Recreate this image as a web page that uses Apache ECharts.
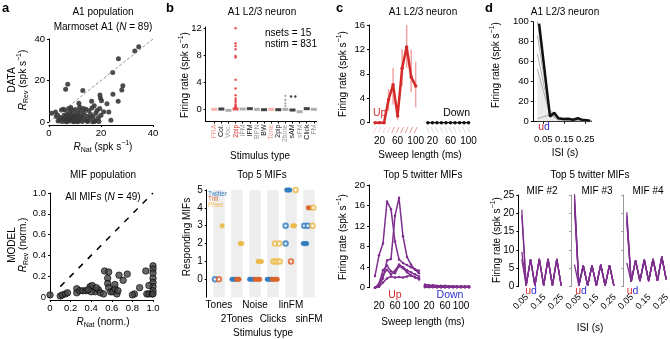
<!DOCTYPE html>
<html>
<head>
<meta charset="utf-8">
<script src="https://cdn.jsdelivr.net/npm/echarts@6/dist/echarts.min.js"></script>
<style>html,body{margin:0;padding:0;background:#fff}#chart{width:670px;height:339px}</style>
</head>
<body>
<div id="chart"></div>
<script>
// ---- panel a : data vs model scatter ----
var a1Points = [
  [34.5,36.3],[33,34.2],[26.7,30.5],[24.5,23.8],[7.2,18.2],[6.4,15.8],[13,15.2],[28.4,17.5],[28,15.4],[19.6,13],
  [19.8,11.5],[20.2,10.2],[26.6,10],[24.6,13.4],[16.4,10],[11.5,9],[17.4,7.8],[22.3,8.8],[23,4.8],[23.8,0.8],
  [17.8,0.6],[1,4.2],[3.5,0.5],[4,1],[4.5,2.2],[5,0.3],[5.3,1.6],[5.8,3.2],[6,0.8],[6.2,5.8],
  [6.5,2.4],[6.8,1.2],[7,3.8],[7.2,0.2],[7.5,2.8],[7.8,1.6],[8,4.6],[8.2,0.9],[8.5,2],[8.7,3.1],
  [9,0.4],[9,5.5],[9.3,1.5],[9.5,2.6],[9.8,3.6],[10,0.8],[10.2,6],[10.5,1.9],[10.8,3],[11,4.2],
  [11.2,0.5],[11.5,2.4],[12,5.6],[12.2,1.3],[12.5,3.4],[12.8,0.3],[13,2.2],[13.5,4.5],[14,1],[14.2,6.2],
  [14.5,2.8],[15,0.5],[15.4,5.4],[15.8,1.8],[16,3.6],[16.5,6.8],[17,2.5],[17.5,0.2],[18,4.2],[18.5,5.6],
  [19,2],[19.5,6.5],[20,3.2],[21,5],[5.5,6.2],[4.8,5.8],[2.5,4.8],[2.8,2.6],[3.3,3.4],[7.6,6.5],
  [8.4,7],[11.8,7.2],[13.2,6.5],[6.6,0.1],[9.6,0.1],[14.8,0.2],[16.8,0.1],[19.2,0.3],[11,0.1]
];
var a2Points = [
  [0,0.02],[0.1,0.01],[0.12,0.02],[0.15,0.03],[0.17,0.04],
  [0.26,0.08],[0.26,0.04],[0.29,0.06],[0.32,0.06],[0.35,0.06],
  [0.39,0.1],[0.41,0.11],[0.44,0.05],[0.47,0.07],[0.49,0.04],[0.40,0.05],
  [0.53,0.25],[0.57,0.24],[0.56,0.18],[0.56,0.13],[0.57,0.09],[0.59,0.05],
  [0.61,0.05],[0.63,0.08],[0.65,0.03],[0.66,0.06],[0.63,0.12],
  [0.67,0.21],[0.71,0.16],[0.75,0.22],[0.82,0.03],[0.80,0.02],[0.87,0.09],[0.93,0.25],
  [0.94,0.03],[0.96,0.03],[0.99,0.03],
  [1.0,0.30],[1.0,0.27],[1.0,0.23],[1.0,0.18],[1.0,0.14],[1.0,0.10],[1.0,0.06],[1.0,0.03],[0.96,0.11],
  [0.45,0.09],[0.52,0.03],[0.37,0.07]
];

// ---- panel b : stimulus types ----
var bCats = ['FRA','Col.','Voc.','2pip','lFM','lFM','BPN','BW','Tone','2pip','2tone','sAM','sFM','Click','FM'];
var bColors = ['#f2a093','#111','#9a9a9a','#e0282b','#9a9a9a','#111','#9a9a9a','#111','#f2a093','#111','#9a9a9a','#111','#9a9a9a','#111','#9a9a9a'];
var bBase = [0,0.05,-0.15,0.05,0.05,0.1,0,-0.05,0,-0.05,0,-0.1,-0.35,0.1,0];
var b2pipRates = [12,9.8,9.4,8.9,7.9,7.7,4.4,3.1,2.1,1.6,1.3,1.0,0.7,0.5,0.3];
var b2toneRates = [2.0,1.4,0.9,0.5];
var bsAMPoints = [[11.8,1.9],[12.4,1.9]];

var bGroups = ['Tones','2Tones','Noise','Clicks','linFM','sinFM'];
var twFilled = [[1.72,0],[1.83,0],[1.94,0],[2.7,0],[2.8,0],[2.9,0],[3.68,0],[3.78,0],[3.88,0],[4.76,5],[4.85,5],[4.94,5],[5.68,2],[5.78,2],[5.87,2]];
var twHollow = [[0.78,0],[4.7,2],[4.7,3],[5.74,3],[5.93,3]];
var trFilled = [[1.98,0],[2.06,0],[2.12,0],[3.0,0],[3.1,0],[3.2,0],[3.27,0],[3.95,0],[4.05,0],[4.15,0],[4.24,0],[5.96,4],[6.08,4]];
var trHollow = [[1.0,0],[5.0,1]];
var phFilled = [[1.18,3],[2.18,2],[2.27,2],[3.17,1],[3.27,1],[3.36,1],[5.09,3],[5.2,3]];
var phHollow = [[4.02,1],[4.14,1],[4.26,1],[4.38,1],[4.11,2],[4.35,2],[5.26,5],[6.2,3],[6.24,4]];

// ---- panel c : sweep length tuning ----
var cUpLen = [10,20,30,40,50,60,70,80,90,100];
var cUpRate = [0,0,0,3.8,6.2,1.1,8.9,12.4,7.5,6.0];
var cUpLow = [0,0,0,2.0,3.0,0.4,6.0,9.0,5.0,2.5];
var cUpHigh = [0,0,0,5.5,9.0,2.0,12.0,16.0,12.0,10.0];
var cDownLen = [10,20,30,40,50,60,70,80,90,100];
var cDownRate = [0,0,0,0,0,0,0,0,0,0];
var cTopDownShift = 117;

var c2Len = [10,20,30,40,50,60,70,80,90,100,110,120];
var c2Up = [
  [2.3,6.3,8.6,16.8,15.3,9.0,5.5,4.8,4.4,4.0,3.6,3.3],
  [0,0.5,1.8,5.3,5.6,14.0,17.5,10.0,6.0,4.5,3.5,2.8],
  [0,0.3,2.5,3.5,2.6,3.3,4.5,4.0,3.4,3.0,2.6,2.2],
  [0,0.8,3.4,4.3,3.2,2.8,4.2,3.8,3.0,2.4,2.1,1.6],
  [0,0.2,1.0,1.8,2.2,2.0,2.1,2.0,2.2,2.4,2.0,1.8]
];
var c2Down = [
  [0.6,0.5,0.5,0.4,0.4,0.4,0.3,0.3,0.3,0.3,0.3,0.3],
  [0.5,0.4,0.4,0.3,0.3,0.3,0.3,0.3,0.2,0.2,0.2,0.2],
  [0.3,0.3,0.2,0.2,0.2,0.2,0.2,0.2,0.2,0.2,0.2,0.2],
  [0.2,0.2,0.2,0.1,0.1,0.1,0.1,0.1,0.1,0.1,0.1,0.1],
  [0.1,0.1,0.1,0.1,0.1,0.1,0.1,0.1,0.1,0.1,0.1,0.1]
];
var cBotDownShift = 125;

// ---- panel d : ISI tuning ----
var d1BlackIsi = [0.03,0.082,0.102,0.122,0.145,0.169,0.193,0.214,0.233,0.257,0.272];
var d1BlackRate = [98,5,9,3.5,2.7,3,2,3.5,2,1.5,1];
var d1GrayIsi = [0.022,0.08,0.1,0.12,0.15,0.2,0.25,0.28];
var d1GrayIds = ['5','4','3','2','1'];
var d1Gray = [
  [100,12,7,3,2,2,1.5,1],
  [86,10,6,3,2,2,1,1],
  [68,9,6,3,2,1.5,1,1],
  [53,8,5,2,2,1.5,1,1],
  [3,7,5,2,1.5,1,1,1]
];
var isiD2 = [0.02,0.045,0.07,0.095,0.12,0.145,0.17,0.195,0.22,0.245];
var mif2Ids = ['5','3','2','1'];
var mif2Starts = [21,19.5,9.5,7.5];
var mif2Zig = [0.3,7.5,0.3,7.6,0.3,7.6,0.3,7.6,0.3];
var mif3Ids = ['5','4','3','2','1'];
var mif3Starts = [25.2,24.0,22.8,21.6,6.0];
var mif3Zig = [0.3,5.8,0.3,5.8,0.3,6.0,0.3,5.9,0.3];
var mif4Ids = ['5','4','3','2','1'];
var mif4Starts = [20.3,19.4,18.5,17.6,6.5];
var mif4Zig = [1.3,7.2,1.5,7.4,1.5,7.6,1.6,8.2,2.0];

var F = '"Liberation Sans", Arial, Helvetica, sans-serif';
var PURPLE = '#7e2f8e', RED = '#d42a2a', BLUE = '#2f2fd0';
var TW = '#2f7bbf', TR = '#d9622b', PH = '#ecb94a';
var TICK = 9.5;

var chart = echarts.init(document.getElementById('chart'), null, {renderer: 'canvas'});

function grid(l, t, w, h) {
  return {left: l, top: t, width: w, height: h, containLabel: false, outerBoundsMode: 'none'};
}
var grids = [
  grid(49, 39, 104, 83), grid(50, 193, 103, 104),
  grid(205.7, 27, 111, 94.5), grid(206.7, 190, 109.5, 107.2),
  grid(369, 25, 103, 97.7), grid(369, 185, 103, 102.7),
  grid(532.8, 21.7, 58.8, 100),
  grid(518.3, 195, 45.5, 91.7), grid(571, 195, 45.5, 91.7), grid(623.3, 195, 45.5, 91.7)
];

function axis(gi, o) {
  var a = {
    type: 'value', gridIndex: gi, splitLine: {show: false},
    axisLine: {show: true, onZero: false, lineStyle: {color: '#000', width: 1}},
    axisTick: {show: true, length: 2, lineStyle: {color: '#000'}},
    axisLabel: {fontSize: TICK, fontFamily: F, color: '#000', margin: 4, hideOverlap: false,
      showMinLabel: true, showMaxLabel: true}
  };
  for (var k in o) {
    if (o[k] && typeof o[k] === 'object' && !Array.isArray(o[k]) && a[k]) a[k] = Object.assign({}, a[k], o[k]);
    else a[k] = o[k];
  }
  return a;
}
function fmt1(v) { v = Number(v); return v === 0 ? '0' : v.toFixed(1); }

var bIdx = bCats.map(function (c, i) { return i + 1; });
var gIdx = bGroups.map(function (c, i) { return i + 1; });
var gOdd = gIdx.filter(function (v) { return v % 2 === 1; });
var gEven = gIdx.filter(function (v) { return v % 2 === 0; });
var cTopTicks = [20, 60, 100].concat([20, 60, 100].map(function (v) { return v + cTopDownShift; }));
var cBotTicks = [20, 60, 100].concat([20, 60, 100].map(function (v) { return v + cBotDownShift; }));
var isiTicks = [0.05, 0.15, 0.25];
function groupName(v) { return bGroups[Math.round(v) - 1]; }

var xs = [
  axis(0, {min: 0, max: 40, interval: 20, offset: 3, axisLabel: {margin: 3}}),
  axis(1, {min: 0, max: 1, interval: 0.2, offset: 3, axisLabel: {margin: 3, formatter: fmt1}}),
  axis(2, {min: -0.2, max: 15.4, axisTick: {customValues: bIdx, length: 2},
    axisLabel: {customValues: bIdx, rotate: 90, fontSize: 7, margin: 3,
      formatter: function (v) { return bCats[Math.round(v) - 1]; },
      color: function (v) { return bColors[Math.round(Number(v)) - 1]; }}}),
  axis(3, {min: 0.32, max: 6.4, position: 'bottom', axisLine: {show: false}, axisTick: {show: false},
    axisLabel: {customValues: gOdd, margin: 3, fontSize: 10, formatter: groupName}}),
  axis(4, {min: -3.3, max: 224.6, axisLine: {show: false}, axisTick: {show: false},
    axisLabel: {customValues: cTopTicks, margin: 14, fontSize: 10,
      formatter: function (v) { v = Number(v); return String(v > 110 ? v - cTopDownShift : v); }}}),
  axis(5, {min: -5, max: 252.5, axisLine: {show: false}, axisTick: {show: false},
    axisLabel: {customValues: cBotTicks, margin: 14, fontSize: 10,
      formatter: function (v) { v = Number(v); return String(v > 125 ? v - cBotDownShift : v); }}}),
  axis(6, {min: 0, max: 0.28, axisTick: {customValues: isiTicks, length: 2}, axisLabel: {customValues: isiTicks, margin: 13}}),
  axis(7, {min: 0, max: 0.26, axisLine: {show: false}, axisTick: {show: false}, axisLabel: {customValues: isiTicks, rotate: 45, fontSize: 9, margin: 9}}),
  axis(8, {min: 0, max: 0.26, axisLine: {show: false}, axisTick: {show: false}, axisLabel: {customValues: isiTicks, rotate: 45, fontSize: 9, margin: 9}}),
  axis(9, {min: 0, max: 0.26, axisLine: {show: false}, axisTick: {show: false}, axisLabel: {customValues: isiTicks, rotate: 45, fontSize: 9, margin: 9}}),
  // second label row of panel b bottom
  axis(3, {min: 0.32, max: 6.4, position: 'bottom', offset: 0, axisLine: {show: false}, axisTick: {show: false},
    axisLabel: {customValues: gEven, margin: 17, fontSize: 10, formatter: groupName}})
];
var ys = [
  axis(0, {min: 0, max: 40, interval: 20}),
  axis(1, {min: 0, max: 1, interval: 0.2, axisLabel: {formatter: fmt1}}),
  axis(2, {min: -1.8, max: 12.2, axisTick: {customValues: [0, 4, 8, 12], length: 2}, axisLabel: {customValues: [0, 4, 8, 12]}}),
  axis(3, {min: -1, max: 5, axisTick: {customValues: [0, 1, 2, 3, 4, 5], length: 2}, axisLabel: {customValues: [0, 1, 2, 3, 4, 5], fontSize: 10}}),
  axis(4, {min: 0, max: 16, interval: 4}),
  axis(5, {min: 0, max: 20, interval: 4}),
  axis(6, {min: 0, max: 100, interval: 20}),
  axis(7, {min: 0, max: 25, interval: 5, axisLabel: {fontSize: 10}}),
  axis(8, {min: 0, max: 25, interval: 5, axisLabel: {show: false}, axisLine: {show: true, onZero: false, lineStyle: {color: '#999'}}, axisTick: {show: true, length: 2, lineStyle: {color: '#999'}}}),
  axis(9, {min: 0, max: 25, interval: 5, axisLabel: {show: false}, axisLine: {show: true, onZero: false, lineStyle: {color: '#999'}}, axisTick: {show: true, length: 2, lineStyle: {color: '#999'}}})
];

var series = [];
function add(s) { s.animation = false; series.push(s); }

// a
add({type: 'line', xAxisIndex: 0, yAxisIndex: 0, data: [[0, 0], [40, 40]], symbol: 'none',
  lineStyle: {color: '#777', width: 0.8, type: [3, 2]}});
add({type: 'scatter', xAxisIndex: 0, yAxisIndex: 0, data: a1Points, symbolSize: 5, clip: false,
  itemStyle: {color: '#383838', opacity: 0.9}});
add({type: 'line', xAxisIndex: 1, yAxisIndex: 1, data: [[0.1, 0.1], [1, 1]], symbol: 'none',
  lineStyle: {color: '#000', width: 1.5, type: [6, 7]}});
add({type: 'scatter', xAxisIndex: 1, yAxisIndex: 1, data: a2Points, symbolSize: 6.5, clip: false,
  itemStyle: {color: '#444', borderColor: '#000', borderWidth: 0.8}});

// b top
add({type: 'scatter', xAxisIndex: 2, yAxisIndex: 2, symbol: 'rect', symbolSize: [6, 3], clip: false,
  data: bBase.map(function (v, i) { return [i + 1, v]; }),
  itemStyle: {color: function (p) { return bColors[p.dataIndex]; }}});
add({type: 'scatter', xAxisIndex: 2, yAxisIndex: 2, symbolSize: 2.5, clip: false,
  data: b2pipRates.map(function (v) { return [4, v]; }), itemStyle: {color: '#e0282b'}});
add({type: 'scatter', xAxisIndex: 2, yAxisIndex: 2, symbolSize: 2.2, clip: false,
  data: b2toneRates.map(function (v) { return [11, v]; }), itemStyle: {color: '#8a8a8a'}});
add({type: 'scatter', xAxisIndex: 2, yAxisIndex: 2, symbolSize: 2.4, clip: false,
  data: bsAMPoints, itemStyle: {color: '#111'}});

// b bottom
add({type: 'scatter', xAxisIndex: 3, yAxisIndex: 3, data: [], silent: true,
  markArea: {silent: true, itemStyle: {color: '#eeeeee'},
    data: gIdx.map(function (c) { return [{xAxis: c - 0.32, yAxis: -1}, {xAxis: c + 0.32, yAxis: 5}]; })}});
function b2(data, color, hollow) {
  add({type: 'scatter', xAxisIndex: 3, yAxisIndex: 3, data: data, clip: false,
    symbol: hollow ? 'emptyCircle' : 'circle', symbolSize: 4.5,
    itemStyle: hollow ? {color: color, borderWidth: 1} : {color: color, borderColor: color, borderWidth: 0.5, opacity: 0.95}});
}
b2(twFilled, TW, false); b2(trFilled, TR, false); b2(phFilled, PH, false);
b2(twHollow, TW, true); b2(trHollow, TR, true); b2(phHollow, PH, true);

// c top
add({type: 'custom', xAxisIndex: 4, yAxisIndex: 4, z: 1,
  data: cUpLen.map(function (l, i) { return [l, cUpLow[i], cUpHigh[i]]; }),
  renderItem: function (params, api) {
    var p1 = api.coord([api.value(0), api.value(1)]);
    var p2 = api.coord([api.value(0), api.value(2)]);
    return {type: 'line', shape: {x1: p1[0], y1: p1[1], x2: p2[0], y2: p2[1]}, style: {stroke: '#f2a3a3', lineWidth: 1.5}};
  }});
add({type: 'line', xAxisIndex: 4, yAxisIndex: 4, z: 3, clip: false,
  data: cUpLen.map(function (l, i) { return [l, cUpRate[i]]; }),
  symbol: 'circle', symbolSize: 3.5, lineStyle: {color: RED, width: 2.5}, itemStyle: {color: RED}});
add({type: 'line', xAxisIndex: 4, yAxisIndex: 4, z: 3, clip: false,
  data: cDownLen.map(function (l, i) { return [l + cTopDownShift, cDownRate[i]]; }),
  symbol: 'circle', symbolSize: 3.5, lineStyle: {color: '#111', width: 1.2}, itemStyle: {color: '#111'}});
add({type: 'scatter', xAxisIndex: 4, yAxisIndex: 4, clip: false,
  data: cUpLen.map(function (l) { return [l, -1.2]; }),
  symbol: 'path://M0,10L2,10L10,0L8,0Z', symbolSize: [3.5, 6],
  itemStyle: {color: function (p) { return p.dataIndex < 4 ? '#f4b3b3' : '#d84a4a'; }}});
add({type: 'scatter', xAxisIndex: 4, yAxisIndex: 4, clip: false,
  data: cDownLen.map(function (l) { return [l + cTopDownShift, -1.2]; }),
  symbol: 'path://M0,0L2,0L10,10L8,10Z', symbolSize: [3.5, 6], itemStyle: {color: '#c4c4c4'}});

// c bottom
c2Up.forEach(function (row) {
  add({type: 'line', xAxisIndex: 5, yAxisIndex: 5, clip: false,
    data: c2Len.map(function (l, i) { return [l, row[i]]; }),
    symbol: 'circle', symbolSize: 2.5, lineStyle: {color: PURPLE, width: 1.5}, itemStyle: {color: PURPLE}});
});
c2Down.forEach(function (row) {
  add({type: 'line', xAxisIndex: 5, yAxisIndex: 5, clip: false,
    data: c2Len.map(function (l, i) { return [l + cBotDownShift, row[i]]; }),
    symbol: 'circle', symbolSize: 2.5, lineStyle: {color: PURPLE, width: 1.5}, itemStyle: {color: PURPLE}});
});

// d top
d1Gray.forEach(function (row, k) {
  add({type: 'line', xAxisIndex: 6, yAxisIndex: 6, clip: false, symbol: 'none', z: 2,
    data: d1GrayIsi.map(function (x, i) {
      var d = {value: [x, row[i]]};
      if (i === 0) d.label = {show: true, formatter: d1GrayIds[k], position: 'inside', fontSize: 7, color: '#888', fontFamily: F};
      return d;
    }),
    lineStyle: {color: '#aaa', width: 1},
    areaStyle: k === 3 ? {color: '#c9c9c9', opacity: 0.35} : undefined});
});
add({type: 'line', xAxisIndex: 6, yAxisIndex: 6, clip: false, symbol: 'none', z: 4,
  data: d1BlackIsi.map(function (x, i) { return [x, d1BlackRate[i]]; }),
  lineStyle: {color: '#111', width: 2.5}});

// d bottom
function mifLines(axisIdx, ids, starts, zig) {
  ids.forEach(function (id, k) {
    var ys2 = [starts[k]].concat(zig);
    add({type: 'line', xAxisIndex: axisIdx, yAxisIndex: axisIdx, clip: false, symbol: 'none',
      data: isiD2.map(function (x, i) {
        var d = {value: [x, ys2[i]]};
        if (i === 0) d.label = {show: true, formatter: id, position: starts[k] > 12 ? 'right' : 'left', distance: 2,
          fontSize: 7, color: '#444', fontFamily: F};
        return d;
      }),
      lineStyle: {color: PURPLE, width: 1.3}});
  });
}
mifLines(7, mif2Ids, mif2Starts, mif2Zig);
mifLines(8, mif3Ids, mif3Starts, mif3Zig);
mifLines(9, mif4Ids, mif4Starts, mif4Zig);

// text
var RICH = {
  it: {fontStyle: 'italic', fontSize: 10, fontFamily: F, lineHeight: 14, fill: '#000'},
  sub: {fontSize: 7, fontFamily: F, verticalAlign: 'bottom', lineHeight: 14, fill: '#000'},
  sup: {fontSize: 7, fontFamily: F, verticalAlign: 'top', lineHeight: 14, fill: '#000'},
  r: {fontSize: 10.5, fontFamily: F, fill: RED, color: RED, lineHeight: 14},
  b: {fontSize: 10.5, fontFamily: F, fill: BLUE, color: BLUE, lineHeight: 14}
};
function txt(x, y, text, o) {
  o = o || {};
  return {type: 'text', x: x, y: y, rotation: o.rot || 0, silent: true, z: 100,
    style: {text: text, fill: o.color || '#000', fontSize: o.size || 10, fontFamily: F,
      fontWeight: o.bold ? 'bold' : 'normal', lineHeight: 14,
      align: o.align || 'center', verticalAlign: 'middle',
      textAlign: o.align || 'center', textVerticalAlign: 'middle', rich: RICH}};
}
var R90 = Math.PI / 2;
var yFiring = 'Firing rate (spk s{sup|−1})';
var graphics = [
  txt(2, 8, 'a', {bold: true, size: 13, align: 'left'}),
  txt(166, 8, 'b', {bold: true, size: 13, align: 'left'}),
  txt(336, 8, 'c', {bold: true, size: 13, align: 'left'}),
  txt(485, 8, 'd', {bold: true, size: 13, align: 'left'}),

  txt(103, 12, 'A1 population'),
  txt(103, 27, 'Marmoset A1 ({it|N} = 89)'),
  txt(12, 80, 'DATA', {rot: R90}),
  txt(23, 80, '{it|R}{sub|Rev} (spk s{sup|−1})', {rot: R90}),
  txt(103, 147, '{it|R}{sub|Nat} (spk s{sup|−1})'),
  txt(103, 175, 'MIF population'),
  txt(103, 197, 'All MIFs ({it|N} = 49)'),
  txt(12, 245, 'MODEL', {rot: R90}),
  txt(23, 245, '{it|R}{sub|Rev} (norm.)', {rot: R90}),
  txt(103, 322, '{it|R}{sub|Nat} (norm.)'),

  txt(262, 12, 'A1 L2/3 neuron'),
  txt(265, 33, 'nsets = 15', {align: 'left'}),
  txt(265, 44, 'nstim = 831', {align: 'left'}),
  txt(185, 75, yFiring, {rot: R90}),
  txt(260, 156, 'Stimulus type'),
  txt(262, 175, 'Top 5 MIFs'),
  txt(187, 237, 'Responding MIFs', {rot: R90}),
  txt(208, 194, 'Twitter', {align: 'left', size: 6.5, color: TW}),
  txt(208, 199.5, 'Trill', {align: 'left', size: 6.5, color: TR}),
  txt(208, 205, 'Phee', {align: 'left', size: 6.5, color: PH}),
  txt(263, 333, 'Stimulus type'),

  txt(423, 12, 'A1 L2/3 neuron'),
  txt(373, 113, 'Up', {align: 'left', size: 10.5, color: RED}),
  txt(470, 113, 'Down', {align: 'right', size: 10.5}),
  txt(343, 74, yFiring, {rot: R90}),
  txt(420, 155, 'Sweep length (ms)'),
  txt(423, 175, 'Top 5 twitter MIFs'),
  txt(395, 295, 'Up', {size: 10.5, color: RED}),
  txt(450, 295, 'Down', {size: 10.5, color: BLUE}),
  txt(343, 237, yFiring, {rot: R90}),
  txt(423, 322, 'Sweep length (ms)'),

  txt(565, 12, 'A1 L2/3 neuron'),
  txt(496, 65, yFiring, {rot: R90}),
  txt(544, 127, '{r|u}{b|d}'),
  txt(565, 153, 'ISI (s)'),
  txt(590, 175, 'Top 5 twitter MIFs'),
  txt(542, 191, 'MIF #2', {size: 10}),
  txt(597, 191, 'MIF #3', {size: 10}),
  txt(648, 191, 'MIF #4', {size: 10}),
  txt(497, 240, yFiring, {rot: R90}),
  txt(531, 291, '{r|u}{b|d}'),
  txt(581, 291, '{r|u}{b|d}'),
  txt(632.5, 291, '{r|u}{b|d}'),
  txt(590, 328, 'ISI (s)')
];

chart.setOption({
  animation: false,
  backgroundColor: '#fff',
  textStyle: {fontFamily: F},
  grid: grids,
  xAxis: xs,
  yAxis: ys,
  series: series,
  graphic: graphics
});
</script>
</body>
</html>
